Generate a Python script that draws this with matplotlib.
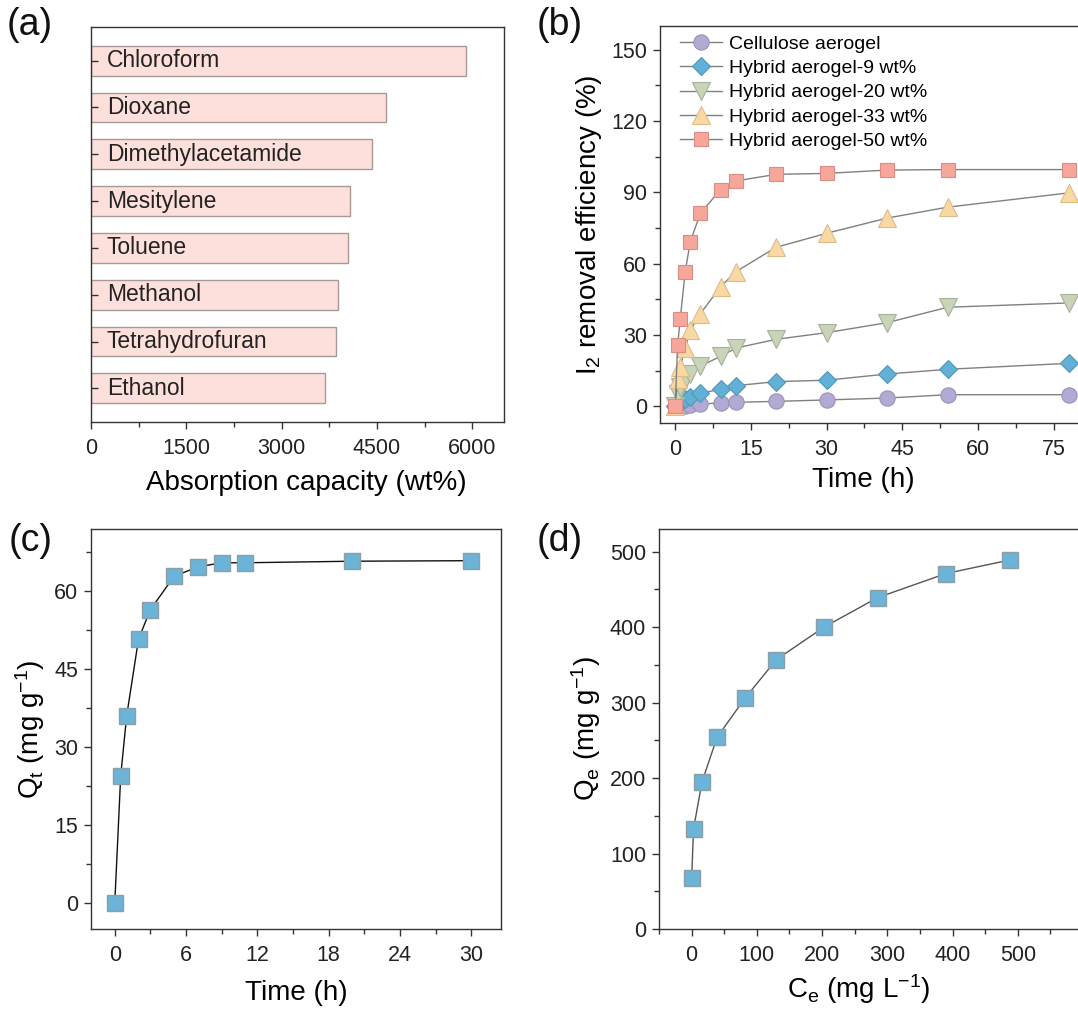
import numpy as np
import matplotlib
matplotlib.use("Agg")
import matplotlib.pyplot as plt
from matplotlib.ticker import MultipleLocator

plt.rcParams['font.family'] = ['Liberation Sans', 'DejaVu Sans']
plt.rcParams['mathtext.default'] = 'regular'
plt.rcParams['axes.linewidth'] = 1.0
plt.rcParams['axes.edgecolor'] = '#333333'

# (a) absorption capacity of solvents
solvents = ['Chloroform', 'Dioxane', 'Dimethylacetamide', 'Mesitylene',
            'Toluene', 'Methanol', 'Tetrahydrofuran', 'Ethanol']
capacity = [5905, 4640, 4430, 4080, 4045, 3885, 3855, 3680]

# (b) I2 removal efficiency vs time
time_b = [0, 0.5, 1, 2, 3, 5, 9, 12, 20, 30, 42, 54, 78]
cellulose = [0, 0, 0, 0.2, 0.4, 0.8, 1.6, 1.7, 2.1, 2.7, 3.5, 4.9, 4.9]
hybrid9 = [0, 1.0, 1.8, 3.0, 4.0, 5.5, 7.2, 8.7, 10.4, 11.0, 13.6, 15.6, 18.1]
hybrid20 = [0, 5.0, 8.0, 11.0, 13.5, 17.0, 21.0, 24.5, 28.2, 31.0, 35.2, 41.7, 43.5]
hybrid33 = [0, 11.5, 16.5, 24.5, 32.0, 39.0, 50.3, 56.6, 66.9, 72.8, 79.2, 83.8, 89.8]
hybrid50 = [0, 25.9, 36.6, 56.7, 69.3, 81.2, 91.2, 94.8, 97.6, 98.0, 99.4, 99.6, 99.6]
series_names = ['Cellulose aerogel', 'Hybrid aerogel-9 wt%', 'Hybrid aerogel-20 wt%',
                'Hybrid aerogel-33 wt%', 'Hybrid aerogel-50 wt%']

# (c) adsorption kinetics
time_c = [0, 0.5, 1, 2, 3, 5, 7, 9, 11, 20, 30]
qt = [0, 24.5, 36.0, 50.8, 56.5, 62.9, 64.7, 65.5, 65.5, 65.8, 65.9]

# (d) adsorption isotherm
ce = [0, 3, 16, 39, 82, 130, 203, 285, 390, 488]
qe = [67, 133, 195, 254, 306, 357, 400, 439, 471, 489]

W, H = 1078, 1009
fig = plt.figure(figsize=(W / 100, H / 100), dpi=100)


def box(l, t, r, b):
    return [l / W, 1 - b / H, (r - l) / W, (b - t) / H]


tick_fs = 15.5
label_fs = 20


def style(ax):
    ax.tick_params(which='both', direction='out', width=1.0, labelsize=tick_fs,
                   color='#333333', labelcolor='#222222')
    ax.tick_params(axis='x', which='both', pad=7)
    ax.tick_params(axis='y', which='both', pad=4.5)
    ax.tick_params(which='major', length=4.8)
    ax.tick_params(which='minor', length=3.5)


# ---- (a)
axa = fig.add_axes(box(91, 27, 504, 422))
ypos = np.arange(len(solvents))
axa.barh(ypos, capacity, height=0.64, color='#fde0db', edgecolor='#a89896', linewidth=1.0)
for i, name in enumerate(solvents):
    axa.annotate(name, xy=(0, i), xytext=(11.5, 0), textcoords='offset points',
                 va='center', ha='left', fontsize=16.5, color='#222222')
axa.set_xlim(0, 6500)
axa.set_ylim(len(solvents) - 0.28, -0.72)
axa.set_yticks(ypos)
axa.set_yticklabels([])
axa.xaxis.set_major_locator(MultipleLocator(1500))
axa.xaxis.set_minor_locator(MultipleLocator(750))
style(axa)
axa.tick_params(axis='y', direction='in', length=5)
axa.set_xlabel('Absorption capacity (wt%)', fontsize=label_fs, labelpad=8)
axa.xaxis.label.set_x(0.522)

# ---- (b)
axb = fig.add_axes(box(660, 26, 1084, 423))
styles = [
    ('o', '#b3aad3', '#9a92b8', 11),
    ('D', '#62b0d6', '#4f98bb', 9.5),
    ('v', '#c9d3b8', '#a7b196', 13),
    ('^', '#f9d8a3', '#dcbd8a', 13),
    ('s', '#f7a69c', '#dc8c83', 10),
]
data_b = [cellulose, hybrid9, hybrid20, hybrid33, hybrid50]
for ys, name, (m, fc, ec, ms) in zip(data_b, series_names, styles):
    axb.plot(time_b, ys, '-', color='#808080', lw=1.0, marker=m, ms=ms,
             markerfacecolor=fc, markeredgecolor=ec, markeredgewidth=0.8, label=name)
axb.set_xlim(-3, 81)
axb.set_ylim(-7, 160)
axb.xaxis.set_major_locator(MultipleLocator(15))
axb.xaxis.set_minor_locator(MultipleLocator(7.5))
axb.yaxis.set_major_locator(MultipleLocator(30))
axb.yaxis.set_minor_locator(MultipleLocator(15))
style(axb)
axb.set_xlabel('Time (h)', fontsize=label_fs, labelpad=4.5)
axb.xaxis.label.set_x(0.48)
axb.set_ylabel('I$_2$ removal efficiency (%)', fontsize=label_fs, labelpad=5)
axb.legend(loc='upper left', bbox_to_anchor=(0.028, 0.996), frameon=False, fontsize=14,
           handlelength=2.2, handletextpad=0.35, labelspacing=0.34, borderaxespad=0.2,
           borderpad=0.2)

# ---- (c)
axc = fig.add_axes(box(91, 529, 501, 929))
axc.plot(time_c, qt, '-', color='#111111', lw=1.0, marker='s', ms=12,
         markerfacecolor='#6bb3d7', markeredgecolor='#8c9ea6', markeredgewidth=1.0)
axc.set_xlim(-2, 32.5)
axc.set_ylim(-5, 72)
axc.xaxis.set_major_locator(MultipleLocator(6))
axc.xaxis.set_minor_locator(MultipleLocator(3))
axc.yaxis.set_major_locator(MultipleLocator(15))
axc.yaxis.set_minor_locator(MultipleLocator(7.5))
style(axc)
axc.set_xlabel('Time (h)', fontsize=label_fs, labelpad=9.5)
axc.set_ylabel('Q$_t$ (mg g$^{-1}$)', fontsize=label_fs, labelpad=5)

# ---- (d)
axd = fig.add_axes(box(659, 529, 1083, 929))
axd.plot(ce, qe, '-', color='#555555', lw=1.0, marker='s', ms=12,
         markerfacecolor='#6bb3d7', markeredgecolor='#8c9ea6', markeredgewidth=1.0)
axd.set_xlim(-50, 600)
axd.set_ylim(0, 530)
axd.set_xticks([0, 100, 200, 300, 400, 500])
axd.xaxis.set_minor_locator(MultipleLocator(50))
axd.yaxis.set_major_locator(MultipleLocator(100))
axd.yaxis.set_minor_locator(MultipleLocator(50))
style(axd)
axd.set_xlabel('C$_e$ (mg L$^{-1}$)', fontsize=label_fs, labelpad=4.5)
axd.xaxis.label.set_x(0.47)
axd.set_ylabel('Q$_e$ (mg g$^{-1}$)', fontsize=label_fs, labelpad=5)

# panel letters
for lbl, x, y in [('(a)', 7, 25), ('(b)', 537, 25), ('(c)', 9, 541), ('(d)', 537, 541)]:
    fig.text(x / W, 1 - y / H, lbl, fontsize=27, va='center', ha='left', color='#111111')

fig.savefig('out.png', dpi=100)
